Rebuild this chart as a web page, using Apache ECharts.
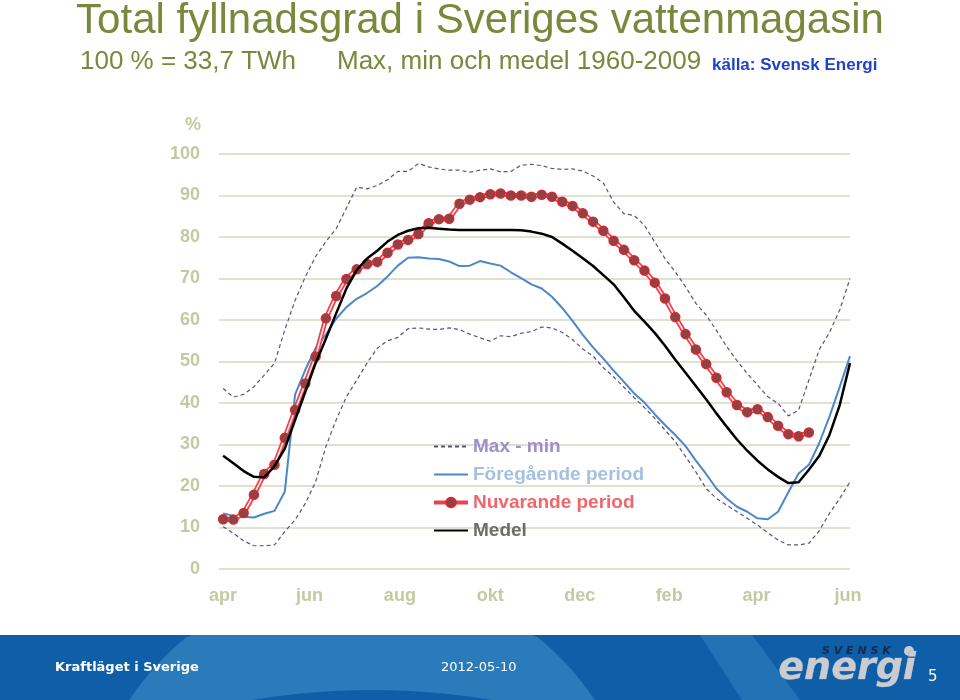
<!DOCTYPE html>
<html>
<head>
<meta charset="utf-8">
<script src="https://cdn.jsdelivr.net/npm/echarts@6/dist/echarts.min.js"></script>
<style>html,body{margin:0;padding:0;background:#fff;}#c{width:960px;height:700px;}</style>
</head>
<body>
<div id="c"></div>
<script>
// ---- data (weekly values, week 0 = first week of April) ----
var monthNames = ['apr', 'jun', 'aug', 'okt', 'dec', 'feb', 'apr', 'jun'];
var monthPos = [0, 8.4, 17.2, 26.0, 34.7, 43.4, 51.9, 60.8];
var yTicks = [0, 10, 20, 30, 40, 50, 60, 70, 80, 90, 100];

var maxVals = [43.5, 41.4, 42.1, 43.9, 46.7, 49.6, 57.6, 64.7, 70.4, 75.3, 78.9, 82.0, 87.0, 92.0, 91.6, 92.4,
  93.8, 95.8, 95.8, 97.7, 96.9, 96.4, 96.1, 96.1, 95.6, 96.1, 96.4, 95.7, 95.8, 97.3, 97.5, 97.2,
  96.5, 96.3, 96.4, 95.9, 94.7, 93.0, 88.4, 85.6, 85.2, 82.8, 78.8, 74.8, 71.6, 68.0, 64.0, 61.2,
  57.5, 53.6, 50.2, 47.1, 44.3, 41.5, 39.9, 36.9, 38.3, 45.5, 52.8, 57.0, 62.4, 70.0];
var minVals = [10.2, 8.6, 6.8, 5.6, 5.6, 5.8, 9.0, 11.8, 15.8, 21.0, 29.5, 35.9, 41.5, 45.5, 49.6, 53.2,
  55.0, 55.8, 57.9, 58.1, 57.8, 57.7, 58.1, 57.7, 56.6, 55.7, 54.9, 56.2, 56.0, 56.8, 57.2, 58.3,
  58.1, 57.0, 55.3, 53.0, 51.3, 48.5, 46.3, 43.8, 41.3, 38.9, 36.3, 33.5, 30.7, 27.1, 23.4, 19.4,
  17.0, 15.4, 13.8, 12.2, 10.6, 8.7, 7.0, 5.8, 5.8, 6.2, 9.2, 13.4, 17.0, 21.0];
var foregVals = [13.4, 12.8, 12.6, 12.4, 13.3, 14.0, 18.6, 42.0, 48.0, 53.2, 56.5, 60.3, 63.1, 65.1, 66.5, 68.2,
  70.5, 73.1, 75.0, 75.1, 74.8, 74.7, 74.1, 73.0, 73.1, 74.2, 73.6, 73.1, 71.5, 70.1, 68.6, 67.6,
  65.6, 62.9, 59.8, 56.4, 53.4, 50.7, 47.8, 45.1, 42.3, 40.1, 37.3, 34.7, 32.3, 29.6, 26.1, 22.9,
  19.4, 17.0, 15.0, 13.8, 12.2, 12.0, 13.8, 18.5, 23.0, 25.1, 30.3, 36.7, 43.9, 51.3];
var nuvVals = [12.0, 11.9, 13.5, 17.9, 22.9, 25.1, 31.6, 38.3, 44.7, 51.2, 60.4, 65.8, 69.9, 72.2, 73.5, 74.0,
  76.2, 78.2, 79.3, 80.7, 83.3, 84.3, 84.4, 88.0, 89.0, 89.6, 90.3, 90.5, 90.0, 90.0, 89.7, 90.2,
  89.7, 88.5, 87.5, 85.7, 83.7, 81.5, 79.1, 76.9, 74.4, 71.9, 69.0, 65.2, 60.7, 56.6, 52.9, 49.4,
  46.1, 42.6, 39.5, 37.8, 38.5, 36.6, 34.5, 32.5, 32.0, 32.9];
var medelVals = [27.3, 25.5, 23.6, 22.2, 22.1, 24.8, 29.0, 35.9, 42.7, 49.6, 55.5, 61.6, 67.6, 72.0, 74.8, 76.7,
  78.9, 80.5, 81.5, 82.1, 82.2, 82.0, 81.8, 81.7, 81.7, 81.7, 81.7, 81.7, 81.7, 81.6, 81.3, 80.8,
  80.0, 78.4, 76.7, 74.9, 73.0, 70.8, 68.6, 65.5, 62.2, 59.6, 56.9, 53.8, 50.4, 47.3, 44.1, 40.9,
  37.5, 34.3, 31.2, 28.5, 26.1, 24.0, 22.2, 20.7, 20.9, 23.9, 27.2, 32.3, 39.5, 49.6];

function pairs(arr) { return arr.map(function (v, i) { return [i, v]; }); }

// footer decoration: circle clipped to the footer band (drawn as polygon)
function bandCircle(cx, cy, r, y0) {
  var pts = [];
  for (var k = 0; k <= 240; k++) {
    var a = k / 240 * Math.PI * 2;
    var x = cx + r * Math.cos(a), y = cy + r * Math.sin(a);
    pts.push([x, Math.max(y, y0)]);
  }
  return pts;
}

var FONT = '"Liberation Sans", Arial, sans-serif';
var VFONT = '"DejaVu Sans", Verdana, sans-serif';
var axisColor = '#c3caa2';
var gridColor = '#d6d7c2';
var titleColor = '#77893a';

var chart = echarts.init(document.getElementById('c'), null, { renderer: 'canvas' });
var option = {
  animation: false,
  backgroundColor: '#ffffff',
  title: [
    { text: 'Total fyllnadsgrad i Sveriges vattenmagasin', left: 'center', top: 0, padding: 0,
      textStyle: { fontFamily: FONT, fontSize: 42, fontWeight: 'normal', color: titleColor } },
    { text: '100 % = 33,7 TWh', left: 80, top: 49, padding: 0,
      textStyle: { fontFamily: FONT, fontSize: 26, fontWeight: 'normal', color: titleColor } },
    { text: 'Max, min och medel 1960-2009', left: 337, top: 49, padding: 0,
      textStyle: { fontFamily: FONT, fontSize: 26, fontWeight: 'normal', color: titleColor } },
    { text: 'källa: Svensk Energi', left: 712, top: 57, padding: 0,
      textStyle: { fontFamily: FONT, fontSize: 17, fontWeight: 'bold', color: '#2142c4' } },
    { text: 'Kraftläget i Sverige', left: 55, top: 661, padding: 0,
      textStyle: { fontFamily: VFONT, fontSize: 13, fontWeight: 'bold', color: '#ffffff' } },
    { text: '2012-05-10', left: 441, top: 661, padding: 0,
      textStyle: { fontFamily: VFONT, fontSize: 13, fontWeight: 'normal', color: '#ffffff' } },
    { text: '5', left: 928, top: 670, padding: 0,
      textStyle: { fontFamily: VFONT, fontSize: 15, fontWeight: 'normal', color: '#ffffff' } }
  ],
  graphic: [
    { type: 'rect', silent: true, z: -10, shape: { x: 0, y: 635, width: 960, height: 65 }, style: { fill: '#0e5fa7' } },
    { type: 'polygon', silent: true, z: -9, shape: { points: bandCircle(362, 854, 279, 635) }, style: { fill: '#2b7bbb' } },
    { type: 'polygon', silent: true, z: -8, shape: { points: bandCircle(372, 1415, 725, 635) }, style: { fill: '#0e5fa7' } },
    { type: 'polygon', silent: true, z: -9, shape: { points: [[700, 635], [752, 635], [800, 700], [742, 700]] }, style: { fill: '#2272b5' } },
    { type: 'text', silent: true, z: 5, left: 822, top: 646,
      style: { text: 'S V E N S K', fill: '#17284f', font: 'bold italic 11px "DejaVu Sans", sans-serif' } },
    { type: 'circle', silent: true, z: 5, shape: { cx: 909, cy: 651, r: 5 }, style: { fill: '#c9ccd2' } },
    { type: 'text', silent: true, z: 5, left: 778, top: 650,
      style: { text: 'energi', fill: '#c9ccd2', stroke: '#8d96a3', lineWidth: 0.6,
        font: 'bold italic 38px "DejaVu Sans", sans-serif' } }
  ],
  legend: {
    orient: 'vertical', left: 432, top: 437, padding: 0, itemWidth: 34, itemHeight: 12, itemGap: 9,
    selectedMode: false, backgroundColor: 'transparent',
    textStyle: { fontFamily: FONT, fontSize: 19, fontWeight: 'bold', padding: [0, 0, 0, 0] },
    data: [
      { name: 'Max - min', textStyle: { color: '#9e8fc8' }, itemStyle: { opacity: 0 } },
      { name: 'Föregående period', textStyle: { color: '#a6bfe2' }, itemStyle: { opacity: 0 } },
      { name: 'Nuvarande period', textStyle: { color: '#f0676b' }, lineStyle: { color: '#e8444e', width: 4 } },
      { name: 'Medel', textStyle: { color: '#6d6d6d' }, itemStyle: { opacity: 0 } }
    ]
  },
  grid: { left: 219, right: 110, top: 154, bottom: 131, containLabel: false },
  xAxis: {
    type: 'value', min: -0.4, max: 61,
    axisLine: { show: false }, axisTick: { show: false }, splitLine: { show: false },
    axisLabel: {
      customValues: monthPos, margin: 18,
      fontFamily: FONT, fontSize: 18, fontWeight: 'bold', color: axisColor,
      formatter: function (v) {
        var best = 0, d = 1e9;
        monthPos.forEach(function (p, i) { if (Math.abs(p - v) < d) { d = Math.abs(p - v); best = i; } });
        return monthNames[best];
      }
    }
  },
  yAxis: {
    type: 'value', min: 0, max: 100, interval: 10,
    name: '%', nameLocation: 'end', nameGap: 20,
    nameTextStyle: { fontFamily: FONT, fontSize: 18, fontWeight: 'bold', color: axisColor, align: 'right', padding: [0, 22, 0, 0] },
    axisLine: { show: false }, axisTick: { show: false },
    axisLabel: { margin: 19, fontFamily: FONT, fontSize: 18, fontWeight: 'bold', color: axisColor },
    splitLine: { show: true, lineStyle: { color: gridColor, width: 1.5 } }
  },
  series: [
    { name: 'Max - min', type: 'line', data: pairs(maxVals), symbol: 'none', z: 2,
      itemStyle: { color: '#5b5373' },
      lineStyle: { color: '#5b5373', width: 1.2, type: [4, 3] } },
    { name: 'Min', type: 'line', data: pairs(minVals), symbol: 'none', z: 2,
      itemStyle: { color: '#5b5373' },
      lineStyle: { color: '#5b5373', width: 1.2, type: [4, 3] } },
    { name: 'Föregående period', type: 'line', data: pairs(foregVals), symbol: 'none', z: 3,
      itemStyle: { color: '#4d87c7' },
      lineStyle: { color: '#4d87c7', width: 2 } },
    { name: 'NuvOuter', type: 'line', data: pairs(nuvVals), symbol: 'none', z: 4,
      lineStyle: { color: '#e8444e', width: 5 } },
    { name: 'Nuvarande period', type: 'line', data: pairs(nuvVals), z: 5,
      symbol: 'circle', symbolSize: 9, showAllSymbol: true,
      lineStyle: { color: '#fde4e4', width: 1.6 },
      itemStyle: { color: '#8a4646', borderColor: '#d9262f', borderWidth: 1.5 } },
    { name: 'Medel', type: 'line', data: pairs(medelVals), symbol: 'none', z: 6,
      itemStyle: { color: '#000000' },
      lineStyle: { color: '#000000', width: 2.5 } }
  ]
};
chart.setOption(option);
</script>
</body>
</html>
